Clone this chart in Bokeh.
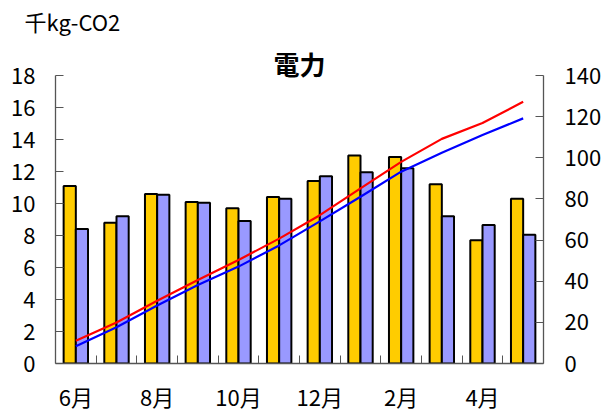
import numpy as np
from bokeh.plotting import figure
from bokeh.models import Range1d, LinearAxis, FixedTicker
from bokeh.core.properties import value
from bokeh.embed import file_html
from bokeh.resources import INLINE

# ---- data ----
months = ["6月", "7月", "8月", "9月", "10月", "11月", "12月", "1月", "2月", "3月", "4月", "5月"]
tick_labels = ["6月", "8月", "10月", "12月", "2月", "4月"]
this_year = [11.1, 8.8, 10.6, 10.1, 9.7, 10.4, 11.4, 13.0, 12.9, 11.2, 7.7, 10.3]
last_year = [8.4, 9.2, 10.55, 10.05, 8.9, 10.3, 11.7, 11.95, 12.2, 9.2, 8.65, 8.05]
left_ticks = [0, 2, 4, 6, 8, 10, 12, 14, 16, 18]
right_ticks = [0, 20, 40, 60, 80, 100, 120, 140]
unit_label = "千kg-CO2"
title_text = "電力"

cum_this = np.cumsum(this_year)
cum_last = np.cumsum(last_year)

FONT = "Noto Sans CJK JP"
n = len(months)
centers = np.arange(n) + 0.5

# layout: frame extends to y=36px; axes drawn only over 0..max via bounds
FRAME_TOP, AXIS_TOP, AXIS_BOTTOM = 36, 75, 363
extra = (AXIS_TOP - FRAME_TOP) / (AXIS_BOTTOM - AXIS_TOP)
left_max, right_max = left_ticks[-1], right_ticks[-1]

p = figure(width=611, height=419, output_backend="svg", toolbar_location=None,
           x_range=Range1d(0, n), y_range=Range1d(0, left_max * (1 + extra)),
           min_border_left=55, min_border_right=68, min_border_top=FRAME_TOP,
           min_border_bottom=56)
p.extra_y_ranges = {"cum": Range1d(0, right_max * (1 + extra))}
p.outline_line_color = None
p.xgrid.visible = False
p.ygrid.visible = False
p.background_fill_color = "white"
p.border_fill_color = "white"

p.vbar(x=centers - 0.15, top=this_year, width=0.3, fill_color="#FFCC00",
       line_color="black", line_width=2)
p.vbar(x=centers + 0.15, top=last_year, width=0.3, fill_color="#9999FF",
       line_color="black", line_width=2)

p.line(centers, cum_this, y_range_name="cum", line_color="#FF0000", line_width=2.2)
p.line(centers, cum_last, y_range_name="cum", line_color="#0000FF", line_width=2.2)

AX_COL = "#555555"

def style_axis(ax):
    ax.axis_line_color = AX_COL
    ax.axis_line_width = 1.3
    ax.major_tick_line_color = AX_COL
    ax.minor_tick_line_color = AX_COL
    ax.major_label_text_font = FONT
    ax.major_label_text_font_size = "22px"
    ax.major_label_text_color = "black"

# left axis
ly = p.yaxis[0]
ly.ticker = FixedTicker(ticks=left_ticks)
ly.bounds = (0, left_max)
ly.major_tick_in = 8
ly.major_tick_out = 0
ly.minor_tick_in = 0
ly.minor_tick_out = 0
ly.major_label_standoff = 20
style_axis(ly)

# right axis
ry = LinearAxis(y_range_name="cum", ticker=FixedTicker(ticks=right_ticks), bounds=(0, right_max))
ry.major_tick_in = 8
ry.major_tick_out = 0
ry.minor_tick_in = 0
ry.minor_tick_out = 0
ry.major_label_standoff = 21
style_axis(ry)
p.add_layout(ry, "right")

# bottom axis
bx = p.xaxis[0]
label_pos = [float(c) for c in centers[::2]]
bx.ticker = FixedTicker(ticks=label_pos, minor_ticks=list(range(1, n)))
bx.major_label_overrides = {pos: lab for pos, lab in zip(label_pos, tick_labels)}
bx.major_tick_in = 0
bx.major_tick_out = 0
bx.minor_tick_in = 8
bx.minor_tick_out = 0
bx.major_label_standoff = 16
style_axis(bx)

# unit label as the figure title (above the frame)
p.title.text = unit_label
p.title.align = "left"
p.title.offset = -31
p.title.text_font = FONT
p.title.text_font_size = "22px"
p.title.text_font_style = "normal"
p.title.text_color = "black"
p.title.standoff = 0

# chart title drawn inside the (extended) frame, above the axes
p.text(x=[n / 2], y=[left_max * (1 + extra * 0.32)], text=[title_text],
       text_font=value(FONT), text_font_size="26px", text_font_style="bold",
       text_align="center", text_baseline="middle", text_color="black")

open("out.html", "w").write(file_html(p, INLINE))
